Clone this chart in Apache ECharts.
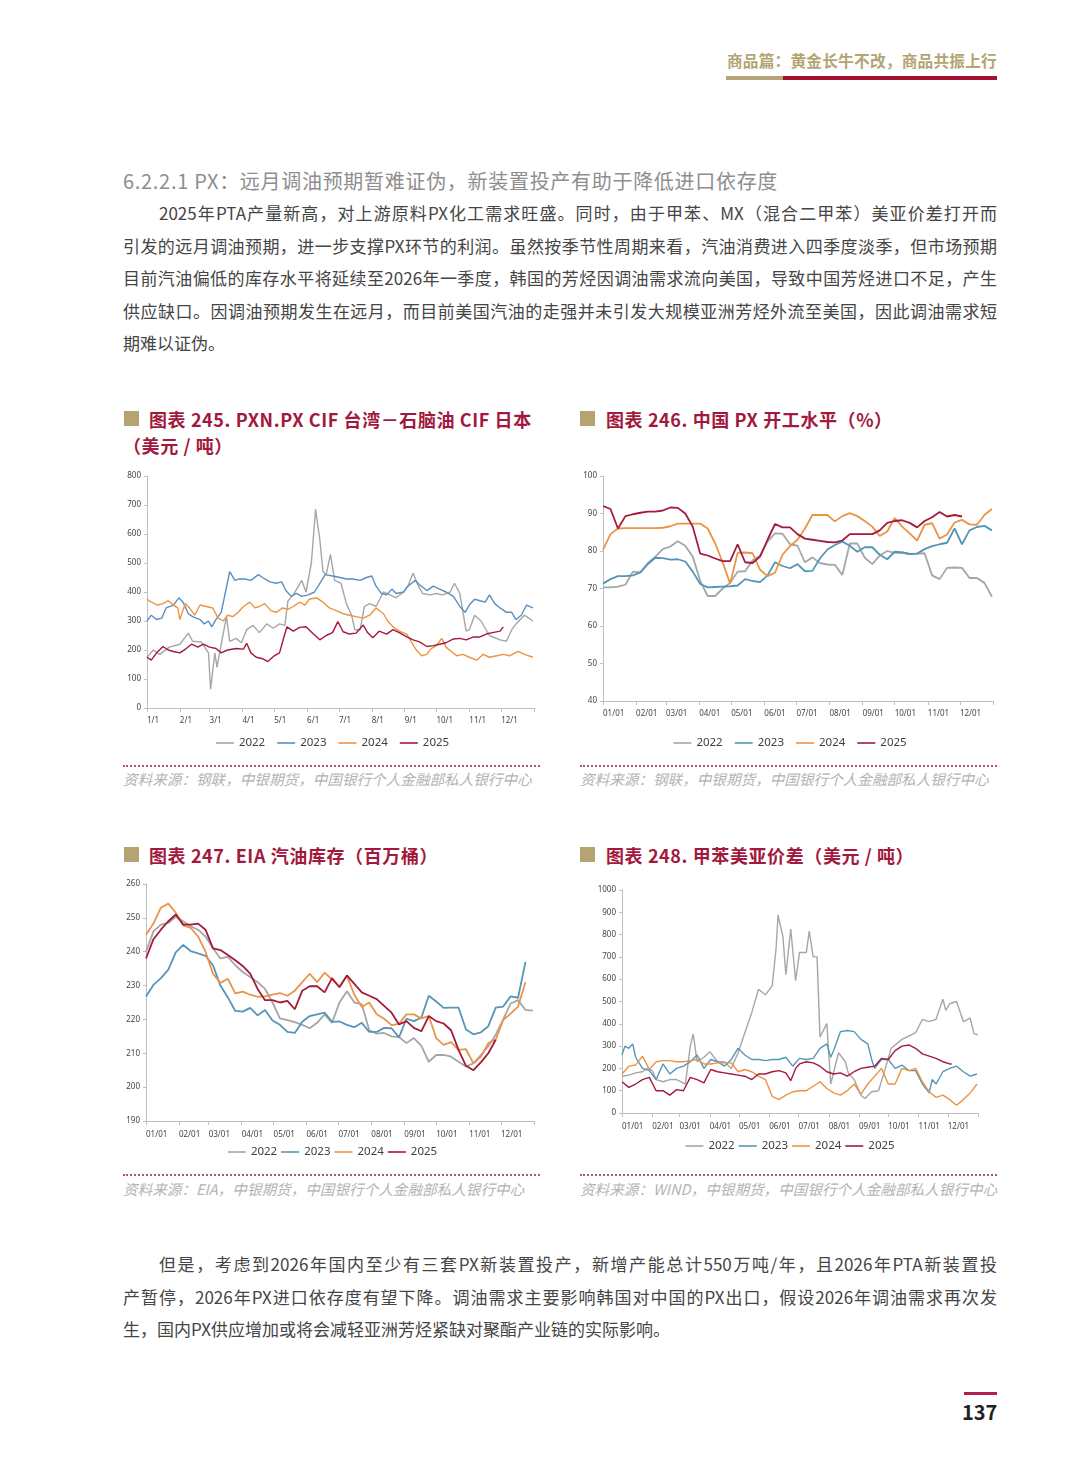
<!DOCTYPE html>
<html><head><meta charset="utf-8">
<script src="https://cdn.jsdelivr.net/npm/echarts@6/dist/echarts.min.js"></script>
<style>
body{margin:0;background:#fff;font-family:"Noto Sans CJK SC","Noto Sans",sans-serif;}
#page{position:relative;width:1080px;height:1465px;overflow:hidden;background:#fff;}
.abs{position:absolute;white-space:nowrap;}
.hdr{right:83px;top:50px;font-size:15.7px;line-height:22px;font-weight:bold;color:#b3a474;letter-spacing:0.2px;}
.bar{position:absolute;top:76px;height:4px;}
.sec{left:123px;top:168px;font-size:20px;line-height:26px;color:#8e8e8e;letter-spacing:0.7px;}
.para{position:absolute;left:123px;width:874px;font-size:17px;line-height:32.6px;color:#454545;}
.ln{text-align:justify;text-align-last:justify;white-space:nowrap;}
.ind{padding-left:36px;}
.last{text-align-last:left;}
.sq{position:absolute;width:15px;height:15px;background:#b3a472;}
.ttl{font-size:18px;line-height:22px;font-weight:bold;color:#a2193d;letter-spacing:0.6px;}
.dot{position:absolute;height:0;border-top:2px dotted #b0566e;width:417px;}
.src{font-size:14.6px;line-height:18px;color:#b3b3b3;font-style:italic;}
.chart{position:absolute;}
</style></head>
<body><div id="page">
<div class="abs hdr">商品篇：黄金长牛不改，商品共振上行</div>
<div class="bar" style="left:726px;width:57px;background:#b7a675"></div>
<div class="bar" style="left:783px;width:214px;background:#a6112f"></div>

<div class="abs sec">6.2.2.1 PX：远月调油预期暂难证伪，新装置投产有助于降低进口依存度</div>
<div class="para" style="top:197px">
<div class="ln ind">2025年PTA产量新高，对上游原料PX化工需求旺盛。同时，由于甲苯、MX（混合二甲苯）美亚价差打开而</div>
<div class="ln">引发的远月调油预期，进一步支撑PX环节的利润。虽然按季节性周期来看，汽油消费进入四季度淡季，但市场预期</div>
<div class="ln">目前汽油偏低的库存水平将延续至2026年一季度，韩国的芳烃因调油需求流向美国，导致中国芳烃进口不足，产生</div>
<div class="ln">供应缺口。因调油预期发生在远月，而目前美国汽油的走强并未引发大规模亚洲芳烃外流至美国，因此调油需求短</div>
<div class="ln last">期难以证伪。</div>
</div>

<div class="sq" style="left:124px;top:411px"></div>
<div class="abs ttl" style="left:149px;top:408px">图表 245. PXN.PX CIF 台湾－石脑油 CIF 日本</div>
<div class="abs ttl" style="left:123px;top:434px">（美元 / 吨）</div>
<div class="sq" style="left:580px;top:411px"></div>
<div class="abs ttl" style="left:606px;top:408px">图表 246. 中国 PX 开工水平（%）</div>

<div id="c1" class="chart" style="left:115px;top:465px;width:435px;height:292px"></div>
<div id="c2" class="chart" style="left:575px;top:465px;width:430px;height:292px"></div>

<div class="dot" style="left:123px;top:765px"></div>
<div class="dot" style="left:580px;top:765px"></div>
<div class="abs src" style="left:123px;top:770px">资料来源：钢联，中银期货，中国银行个人金融部私人银行中心</div>
<div class="abs src" style="left:580px;top:770px">资料来源：钢联，中银期货，中国银行个人金融部私人银行中心</div>

<div class="sq" style="left:124px;top:847px"></div>
<div class="abs ttl" style="left:149px;top:844px">图表 247. EIA 汽油库存（百万桶）</div>
<div class="sq" style="left:580px;top:847px"></div>
<div class="abs ttl" style="left:606px;top:844px">图表 248. 甲苯美亚价差（美元 / 吨）</div>

<div id="c3" class="chart" style="left:115px;top:875px;width:435px;height:292px"></div>
<div id="c4" class="chart" style="left:575px;top:875px;width:430px;height:292px"></div>

<div class="dot" style="left:123px;top:1174px"></div>
<div class="dot" style="left:580px;top:1174px"></div>
<div class="abs src" style="left:123px;top:1180px">资料来源：EIA，中银期货，中国银行个人金融部私人银行中心</div>
<div class="abs src" style="left:580px;top:1180px">资料来源：WIND，中银期货，中国银行个人金融部私人银行中心</div>

<div class="para" style="top:1248px">
<div class="ln ind">但是，考虑到2026年国内至少有三套PX新装置投产，新增产能总计550万吨/年，且2026年PTA新装置投</div>
<div class="ln">产暂停，2026年PX进口依存度有望下降。调油需求主要影响韩国对中国的PX出口，假设2026年调油需求再次发</div>
<div class="ln last">生，国内PX供应增加或将会减轻亚洲芳烃紧缺对聚酯产业链的实际影响。</div>
</div>

<div style="position:absolute;left:964px;top:1392px;width:33px;height:3px;background:#b21f4a"></div>
<div class="abs" style="left:962px;top:1399px;font-size:20px;line-height:26px;font-weight:bold;color:#222">137</div>
</div>

<script>
// ---------- shared axis data ----------
const MONTH_START = [0,31,59,90,120,151,181,212,243,273,304,334];
const TICK_DAYS = [0,31,59,90,120,151,181,212,243,273,304,334,365];
const LABELS_SHORT = ['1/1','2/1','3/1','4/1','5/1','6/1','7/1','8/1','9/1','10/1','11/1','12/1'];
const LABELS_PAD = ['01/01','02/01','03/01','04/01','05/01','06/01','07/01','08/01','09/01','10/01','11/01','12/01'];
const YEARS = ['2022','2023','2024','2025'];
const WEEK_DAYS = [0,7,14,21,28,35,42,49,56,63,70,77,84,91,98,105,112,119,126,133,140,147,154,161,168,175,182,189,196,203,210,217,224,231,238,245,252,259,266,273,280,287,294,301,308,315,322,329,336,343,350,357,364];

// ---------- chart 245: PXN spread (day, USD/t) ----------
const pxn2022 = [[0,175],[6,200],[12,185],[21,210],[31,220],[39,258],[43,230],[51,228],[58,190],[60,65],[64,190],[66,140],[70,220],[75,315],[78,230],[84,240],[89,225],[94,270],[100,285],[106,260],[113,290],[119,275],[125,290],[130,285],[133,370],[138,390],[146,440],[150,400],[155,500],[159,685],[163,580],[166,470],[169,460],[173,530],[177,440],[183,430],[188,360],[193,320],[196,270],[201,270],[205,350],[210,360],[216,350],[223,400],[229,390],[235,380],[242,400],[246,420],[251,465],[256,420],[260,395],[267,390],[273,395],[279,390],[286,400],[290,430],[295,395],[301,265],[304,270],[309,320],[315,300],[323,250],[333,235],[339,230],[344,270],[348,290],[356,320],[364,300]];
const pxn2023 = [[0,300],[4,320],[9,305],[14,310],[18,345],[25,355],[30,380],[34,365],[39,325],[43,315],[50,305],[54,290],[58,300],[61,280],[65,305],[70,330],[74,400],[78,470],[83,440],[87,445],[92,445],[98,440],[105,460],[109,450],[116,435],[122,430],[127,435],[131,405],[136,385],[141,395],[146,385],[152,390],[158,400],[163,430],[168,460],[175,455],[182,450],[188,445],[194,445],[201,440],[207,450],[212,455],[216,420],[221,395],[226,390],[231,410],[235,395],[242,400],[246,420],[253,440],[257,425],[264,405],[270,420],[276,410],[282,400],[289,385],[295,350],[300,330],[304,355],[309,375],[314,370],[319,365],[323,390],[328,360],[333,345],[339,330],[344,330],[348,305],[353,320],[358,355],[364,345]];
const pxn2024 = [[0,375],[4,365],[10,355],[15,360],[20,370],[25,355],[29,345],[31,305],[36,360],[40,345],[45,320],[50,355],[56,350],[62,345],[67,310],[72,300],[76,320],[81,315],[86,330],[91,350],[97,365],[102,345],[106,350],[111,360],[117,335],[122,330],[128,345],[133,340],[138,350],[144,365],[149,355],[153,375],[160,380],[166,365],[172,345],[179,335],[185,325],[191,320],[197,315],[204,310],[210,320],[216,345],[223,325],[227,300],[232,280],[238,265],[245,255],[249,230],[254,200],[259,180],[264,185],[268,205],[273,215],[278,240],[282,210],[287,195],[292,180],[298,185],[304,175],[311,165],[317,185],[323,175],[330,180],[336,185],[342,180],[350,195],[356,185],[364,175]];
const pxn2025 = [[0,175],[4,165],[9,190],[15,212],[20,200],[25,195],[31,190],[37,205],[42,220],[48,210],[53,220],[59,210],[65,205],[70,190],[76,200],[84,205],[91,203],[94,223],[98,190],[103,175],[109,170],[114,160],[120,180],[125,190],[128,230],[132,280],[138,265],[144,278],[150,280],[157,255],[163,235],[169,250],[175,260],[180,298],[185,263],[191,255],[197,258],[204,286],[208,260],[213,242],[219,265],[226,255],[232,270],[238,260],[245,245],[251,235],[257,228],[264,212],[270,215],[276,220],[282,225],[289,238],[295,240],[301,235],[308,245],[314,245],[320,255],[326,260],[333,265],[336,280]];

// ---------- chart 246: China PX operating rate (weekly, %) ----------
const pxRate2022 = [70.3,70.3,70.5,71,74.5,74.3,76.8,78.5,80.5,81.2,82.6,81.4,78.5,72,68,68,70,71.5,74.5,74.6,77.5,78.8,82.5,84.7,84.6,81.8,81.4,77,78.3,76.8,76.4,76.3,73.6,82,82,78.2,76.5,78.8,80,79.5,79.6,79.2,79.3,79.4,73.5,72.5,75.5,75.6,75.5,72.8,72.8,71.5,67.8];
const pxRate2023 = [71.3,72.5,73.3,73.3,73.5,74.3,76.5,78.2,78.1,77.7,77.8,77.2,74.5,71.2,70.3,70.4,70.5,70.6,70.8,72.5,72,71.7,73.5,77,76,75.4,76.5,74.6,74.7,78,80.4,81.6,82.5,81.4,79.8,81,81,79,77.8,79.8,79.6,79.2,79.3,80.5,81.3,81.8,82.2,86,81.8,85.5,86.4,86.7,85.5];
const pxRate2024 = [80.3,84.5,86,86.1,86.1,86.1,86.1,86.1,86.2,86.6,87.3,87.3,87.3,87.3,86,82,77,71.3,79.5,79.6,79.4,75,73.3,74.2,79,81.3,83,86,89.6,89.6,89.6,87.9,89.3,90.1,89.3,88,86.5,84,85.2,88.8,86.5,84.7,82.8,87,87.4,83.3,84.4,87.6,88.3,87.1,87,89.6,91.2];
const pxRate2025 = [92,91.2,86,89.3,89.8,90.2,90.5,90.5,90.8,91.6,91.5,90,86.5,79.3,78.8,78,77.3,77.3,81.8,77,76.8,78.5,83,87.2,86.3,86.3,84.5,83.3,83,82.7,82.4,82.3,82.8,84.5,84.5,84.5,84.5,85.5,87.5,88,88.2,87.5,86.3,88,89,90.4,89.2,89.6,89.2];

// ---------- chart 247: EIA gasoline stocks (weekly, mn bbl) ----------
const eia2022 = [240,246,248,248.5,250.3,249,247.5,246.5,244.5,241,238,238.5,236,234,232.5,231,229,225,220.3,219.8,219.2,218.4,217.4,219,221.5,219,225,228.3,225,224.5,216.8,215.8,216,215,214.8,213,214.5,212.2,207.5,209.5,209.5,209,207.5,206.1,207,209.5,212,215.5,220,224.7,225.7,222.8,222.6];
const eia2023 = [226.8,230.2,232.2,234.7,239.8,242,240.2,239.5,238.8,236,230,226.5,222.5,222.3,223.4,221.2,222.8,219.7,218.4,216.3,216,219.3,221,221.5,222,219.3,219.4,218.4,217.7,219,216.3,216.3,217.5,217.4,214.7,220.2,219.5,220.5,227,225.3,223.4,223.5,223.5,217,215.6,216.2,218,223.5,223.8,226.8,226.4,237];
const eia2024 = [245,248.3,253,254.2,251.5,247.8,247,244.5,240,233.5,230.8,232,227.7,228.2,227.3,226.7,226.8,227.3,227.8,227,228.5,231,233.5,231,233.8,231.8,229.7,232.8,227.3,223.7,225,221.5,220.2,218.3,218.7,221.5,221.5,220.3,221,214.5,212.5,213.3,211,211.2,207,209,213,214,219.8,221.7,223.8,231];
const eia2025 = [238,243.7,246.5,249,251,248,248,248.3,246.5,241,240.5,239,237.5,235.8,233.5,229,225.7,225.7,225,225.5,223,228.5,229.8,229.8,228,232.2,229.5,233,230.5,228,227,226,224,222,218.5,219.5,217.5,216.5,221,219.5,218.8,216.8,211,206.3,205,207.3,210,214];

// ---------- chart 248: toluene US-Asia spread (day, USD/t) ----------
const tol2022 = [[0,165],[7,170],[14,180],[21,185],[26,200],[31,190],[35,150],[42,140],[49,150],[56,150],[65,130],[70,300],[73,355],[77,230],[84,250],[90,275],[98,230],[105,230],[112,200],[119,270],[126,360],[133,450],[140,555],[147,530],[154,570],[158,740],[160,888],[165,790],[168,620],[173,825],[178,593],[182,720],[189,720],[192,816],[196,700],[200,700],[203,341],[210,401],[214,130],[222,270],[229,230],[232,180],[238,150],[245,80],[249,65],[256,95],[263,100],[270,200],[276,290],[287,330],[294,345],[301,360],[308,420],[315,410],[322,420],[329,510],[332,460],[336,490],[343,500],[350,410],[357,425],[361,355],[365,350]];
const tol2023 = [[0,260],[3,300],[7,290],[11,310],[14,250],[21,200],[28,190],[35,150],[42,220],[49,175],[56,200],[63,210],[70,230],[77,260],[84,200],[91,240],[98,230],[105,210],[112,240],[119,290],[126,260],[133,240],[140,240],[147,235],[154,240],[161,240],[168,250],[175,210],[182,245],[189,240],[196,245],[203,290],[210,310],[214,250],[217,280],[224,365],[231,370],[238,365],[245,330],[252,310],[256,240],[259,200],[266,240],[273,240],[280,200],[287,215],[294,190],[301,190],[308,130],[315,90],[318,150],[322,130],[329,185],[336,200],[343,210],[350,185],[357,165],[364,175]];
const tol2024 = [[0,175],[7,210],[14,215],[21,255],[28,195],[35,230],[42,235],[49,235],[56,230],[63,230],[70,235],[77,240],[84,220],[91,220],[98,225],[105,225],[112,225],[119,185],[126,195],[133,185],[140,165],[147,150],[154,75],[161,60],[168,80],[175,95],[182,100],[189,100],[196,120],[203,140],[210,110],[217,90],[224,80],[231,100],[238,130],[245,85],[252,130],[259,165],[266,200],[273,130],[280,130],[287,200],[294,190],[301,200],[308,140],[315,95],[322,70],[329,80],[336,60],[343,35],[350,60],[357,90],[364,130]];
const tol2025 = [[0,140],[7,115],[14,130],[21,150],[28,160],[35,100],[42,100],[49,80],[56,105],[63,100],[70,160],[77,150],[84,135],[91,195],[98,185],[105,180],[112,175],[119,170],[126,165],[133,150],[140,175],[147,175],[154,185],[161,190],[168,180],[173,145],[178,200],[182,220],[189,230],[196,225],[203,210],[210,185],[217,175],[224,180],[231,165],[238,185],[245,200],[252,205],[259,210],[266,245],[273,240],[280,280],[287,300],[294,305],[301,290],[308,265],[315,255],[322,245],[329,230],[336,220],[338,220]];

// ---------- styling ----------
const COLORS = ['#a6a6a6', '#5a8fc0', '#eb9445', '#a31a3a'];
const COLORS_B = ['#a6a6a6', '#5596b8', '#eb9445', '#a31a3a'];
const weekly = vals => vals.map((v, i) => [WEEK_DAYS[i], v]);

function build(id, cfg) {
  const chart = echarts.init(document.getElementById(id), null, {renderer: 'canvas'});
  const axisCol = '#bfbfbf';
  chart.setOption({
    animation: false,
    color: cfg.colors,
    grid: Object.assign({containLabel: false, outerBoundsMode: 'none'}, cfg.grid),
    legend: {
      data: YEARS, top: cfg.legendTop, left: 'center', icon: 'rect',
      itemWidth: 18, itemHeight: 1.6, itemGap: cfg.legendGap,
      textStyle: {fontSize: 11.5, color: '#404040', fontFamily: 'Noto Sans, sans-serif'}
    },
    xAxis: {
      type: 'value', min: 0, max: 365,
      axisLine: {show: true, lineStyle: {color: axisCol}},
      axisTick: {show: true, customValues: TICK_DAYS, length: 4, lineStyle: {color: axisCol}},
      axisLabel: {
        customValues: MONTH_START, align: 'left', fontSize: 8, color: '#444', margin: cfg.xMargin,
        fontFamily: 'Noto Sans, sans-serif',
        formatter: v => cfg.labels[MONTH_START.indexOf(v)] || ''
      },
      splitLine: {show: false}
    },
    yAxis: {
      type: 'value', min: cfg.yMin, max: cfg.yMax, interval: cfg.yInt,
      axisLine: {show: true, lineStyle: {color: axisCol}},
      axisTick: {show: true, length: 3, lineStyle: {color: axisCol}},
      axisLabel: {fontSize: 8, color: '#444', margin: 6, fontFamily: 'Noto Sans, sans-serif',
        formatter: v => String(v)},
      splitLine: {show: false}
    },
    series: cfg.data.map((d, i) => ({
      name: YEARS[i], type: 'line', data: d, symbol: 'none', showSymbol: false,
      lineStyle: {width: cfg.lw}, z: 2 + i
    }))
  });
}

build('c1', {
  grid: {left: 32, top: 11, width: 387, height: 232},
  yMin: 0, yMax: 800, yInt: 100, labels: LABELS_SHORT, colors: COLORS, lw: 1.4,
  legendTop: 267, legendGap: 12, xMargin: 9,
  data: [pxn2022, pxn2023, pxn2024, pxn2025]
});
build('c2', {
  grid: {left: 28, top: 11, width: 390, height: 225},
  yMin: 40, yMax: 100, yInt: 10, labels: LABELS_PAD, colors: COLORS_B, lw: 1.8,
  legendTop: 267, legendGap: 12, xMargin: 9,
  data: [weekly(pxRate2022), weekly(pxRate2023), weekly(pxRate2024), weekly(pxRate2025)]
});
build('c3', {
  grid: {left: 31, top: 9, width: 388, height: 237},
  yMin: 190, yMax: 260, yInt: 10, labels: LABELS_PAD, colors: COLORS_B, lw: 1.8,
  legendTop: 266, legendGap: 4, xMargin: 10,
  data: [weekly(eia2022), weekly(eia2023), weekly(eia2024), weekly(eia2025)]
});
build('c4', {
  grid: {left: 47, top: 15, width: 356, height: 223},
  yMin: 0, yMax: 1000, yInt: 100, labels: LABELS_PAD, colors: COLORS_B, lw: 1.4,
  legendTop: 260, legendGap: 4, xMargin: 10,
  data: [tol2022, tol2023, tol2024, tol2025]
});
</script>
</body></html>
